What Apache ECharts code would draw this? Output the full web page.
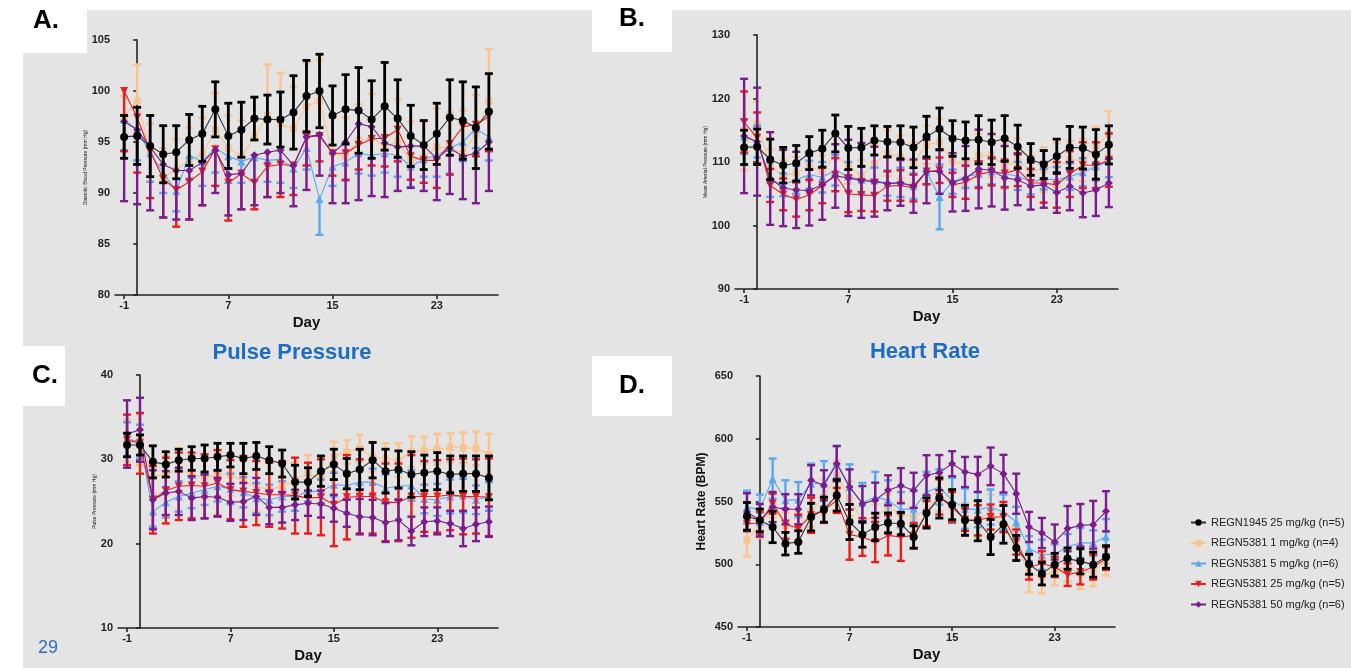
<!DOCTYPE html>
<html><head><meta charset="utf-8">
<script src="https://cdn.jsdelivr.net/npm/echarts@6/dist/echarts.min.js"></script>
<style>html,body{margin:0;padding:0;background:#fff;}#c{width:1351px;height:668px;}</style>
</head><body><div id="c"></div>
<script>
// ---------- data ----------
const days = [-1,0,1,2,3,4,5,6,7,8,9,10,11,12,13,14,15,16,17,18,19,20,21,22,23,24,25,26,27];
const xTicks = [-1,7,15,23];
const groupNames = ['REGN1945 25 mg/kg (n=5)','REGN5381 1 mg/kg (n=4)','REGN5381 5 mg/kg (n=6)','REGN5381 25 mg/kg (n=5)','REGN5381 50 mg/kg (n=6)'];

// A. Diastolic blood pressure
const diaBlack = [95.5,95.6,94.6,93.8,94.0,95.2,95.8,98.2,95.6,96.2,97.3,97.2,97.2,97.9,99.5,100.0,97.6,98.2,98.1,97.2,98.5,97.3,95.6,94.7,95.8,97.4,97.1,96.4,98.0];
const diaBlackErr = [2.1,2.8,3.0,2.8,2.6,2.5,2.7,2.7,3.2,2.7,2.1,2.4,2.7,3.6,3.5,3.6,2.9,3.4,4.2,3.8,4.3,3.8,3.0,2.4,3.0,3.7,3.8,4.0,3.7];
const diaOrange = [97.5,99.0,94.2,91.5,92.3,93.2,93.8,96.2,94.4,93.6,95.5,97.6,96.8,96.3,98.5,99.0,93.9,93.6,95.2,95.4,94.5,95.1,93.1,93.5,94.5,94.4,93.9,95.8,99.0];
const diaOrangeErr = [2.0,3.6,2.6,2.9,3.0,3.2,3.6,3.6,3.2,3.5,3.8,5.0,5.0,4.1,4.2,4.0,3.5,3.8,3.5,4.3,4.0,4.1,3.9,3.5,3.8,3.5,4.2,3.8,5.1];
const diaBlue = [97.2,96.2,93.9,92.0,90.2,93.7,93.1,94.4,93.6,93.1,93.5,93.2,93.3,92.4,94.4,89.4,92.6,93.0,93.9,93.7,93.9,93.7,92.6,93.3,93.7,94.4,95.0,96.3,95.5];
const diaBlueErr = [3.0,3.0,2.8,2.0,2.0,2.4,2.4,2.4,2.6,2.1,2.3,2.1,2.3,1.9,2.1,3.5,1.9,1.8,2.0,2.0,1.9,2.1,2.0,1.7,2.1,2.5,1.9,1.9,2.3];
const diaRed = [100.0,97.4,94.1,91.4,90.3,91.1,92.1,94.3,91.0,91.9,91.0,92.6,92.8,92.7,95.5,95.6,93.9,93.9,94.7,95.3,95.4,96.2,93.6,93.2,93.2,94.8,96.5,96.7,97.5];
const diaRedErr = [5.9,5.4,4.6,3.8,3.6,3.7,3.3,3.6,3.7,3.5,2.6,3.0,3.2,2.9,2.8,2.5,2.2,2.6,2.4,2.6,2.8,3.1,2.3,2.2,2.7,3.0,2.9,3.1,3.4];
const diaPurple = [97.0,96.2,94.5,92.8,92.2,92.2,93.0,94.2,91.8,91.9,93.7,94.0,94.2,92.7,95.5,95.7,93.9,95.0,96.8,96.5,94.9,94.5,94.6,94.6,93.4,94.4,93.6,93.9,95.0];
const diaPurpleErr = [7.8,7.3,6.2,5.2,4.8,4.8,4.2,4.2,4.0,3.5,4.9,4.4,4.2,4.0,5.2,4.0,4.9,6.0,7.5,6.8,5.3,4.3,4.1,4.4,4.1,4.5,4.2,4.9,4.8];

// B. Mean arterial pressure
const mapBlack = [112.3,112.4,110.4,109.5,109.8,111.4,112.1,114.5,112.2,112.3,113.4,113.2,113.1,112.3,114.0,115.2,113.7,113.4,113.5,113.1,113.7,112.4,110.4,109.6,110.9,112.3,112.2,111.2,112.7];
const mapBlackErr = [2.7,2.8,3.2,2.8,2.8,2.6,2.9,2.9,3.4,3.0,2.3,2.4,2.6,3.2,3.2,3.3,2.8,2.9,3.8,3.5,3.6,3.4,2.5,2.2,2.7,3.3,3.3,3.9,3.0];
const mapOrange = [112.0,116.0,109.5,107.8,108.3,109.3,108.5,111.1,109.4,107.8,109.7,111.4,110.8,109.9,112.7,113.2,110.1,109.7,111.0,111.1,109.3,110.3,108.6,108.8,109.5,110.3,110.3,112.3,114.5];
const mapOrangeErr = [3.3,3.5,2.5,2.5,2.5,2.4,2.5,3.5,2.8,2.5,3.0,3.6,3.4,3.2,3.0,3.6,3.5,3.5,3.4,3.5,3.5,3.4,2.5,3.5,3.5,3.0,3.3,3.2,3.5];
const mapBlue = [114.0,113.2,107.2,106.4,107.2,108.0,107.6,108.7,107.7,107.2,107.1,106.7,106.8,106.2,108.5,104.5,106.9,107.7,108.1,108.5,108.1,107.8,106.9,107.3,107.2,107.7,108.4,109.3,110.1];
const mapBlueErr = [2.7,2.5,2.7,1.8,2.2,2.2,2.4,2.4,2.3,2.2,2.0,2.0,2.3,2.0,2.0,5.1,1.9,1.8,2.0,2.0,2.0,2.2,2.0,1.6,2.0,2.1,2.2,2.2,2.5];
const mapRed = [116.3,113.8,106.3,104.9,104.1,104.8,106.3,108.0,105.0,104.8,104.7,106.2,106.3,105.9,108.5,108.7,106.4,106.8,108.0,108.5,108.2,108.8,106.7,106.7,106.4,108.1,109.5,109.5,110.3];
const mapRedErr = [4.8,4.0,2.6,2.5,2.7,2.4,2.8,2.6,2.9,2.5,2.5,2.3,2.4,2.1,2.0,2.0,1.9,2.6,2.1,2.2,2.2,2.6,2.2,3.1,3.6,3.6,3.6,3.6,4.2];
const mapPurple = [114.1,113.2,107.4,105.9,105.6,105.5,106.4,107.8,107.5,107.1,106.9,106.6,106.7,106.2,108.5,108.5,106.8,107.4,108.9,108.7,107.5,107.2,106.2,106.4,105.2,106.2,105.1,105.6,106.7];
const mapPurpleErr = [9.0,8.5,7.3,6.0,6.0,5.5,5.5,5.0,6.0,5.9,5.5,4.2,3.6,4.2,5.0,3.5,4.6,5.1,6.2,5.7,5.0,4.0,3.7,3.6,3.2,3.8,3.8,4.1,3.8];

// C. Pulse pressure
const ppBlack = [31.7,31.7,29.7,29.4,29.9,30.1,30.1,30.3,30.5,30.1,30.4,29.9,29.5,27.3,27.3,28.6,29.4,28.3,28.8,29.9,28.6,28.8,28.2,28.4,28.6,28.2,28.3,28.3,27.8];
const ppBlackErr = [1.4,1.2,1.9,1.5,1.3,1.4,1.6,1.6,1.4,1.8,1.6,1.6,1.6,2.0,1.7,1.8,1.8,1.8,2.4,2.1,2.6,2.2,2.7,2.1,2.2,2.2,2.1,2.1,2.6];
const ppOrange = [32.2,32.3,28.0,28.2,28.8,28.2,27.8,28.2,28.2,27.4,26.8,26.4,26.8,27.6,28.3,27.8,30.3,30.9,31.3,30.3,30.1,29.9,30.9,31.1,31.2,31.4,31.4,31.3,30.6];
const ppOrangeErr = [2.5,3.0,2.0,2.3,2.5,2.3,2.5,2.6,2.5,2.6,3.0,3.2,3.0,2.0,2.2,2.5,1.8,1.4,1.6,1.8,1.8,2.0,1.8,1.6,1.8,1.7,1.8,2.0,2.4];
const ppBlue = [32.4,32.1,23.8,24.9,25.6,26.0,26.4,26.8,26.5,26.1,25.4,25.2,25.6,25.6,26.2,26.2,27.0,26.9,27.3,27.3,26.6,26.8,26.9,25.3,25.2,25.6,25.7,25.2,25.6];
const ppBlueErr = [2.0,2.0,1.8,1.8,1.8,1.8,1.8,1.8,1.8,1.8,1.8,1.8,1.8,1.7,1.2,1.4,1.4,1.6,1.5,1.6,1.6,1.6,1.8,1.7,1.9,2.0,2.0,1.7,1.7];
const ppRed = [32.3,31.9,25.2,26.3,26.8,26.9,26.8,27.2,26.4,26.2,26.0,25.8,25.8,25.7,25.4,25.5,24.6,25.5,25.6,25.6,24.9,24.9,25.6,25.6,25.6,25.8,25.6,25.6,25.5];
const ppRedErr = [3.0,3.6,4.0,3.9,4.0,3.9,3.8,3.9,3.5,4.2,3.8,3.8,4.0,4.5,4.2,4.5,4.9,5.0,4.4,4.4,4.6,4.6,4.9,4.2,4.3,4.2,4.5,4.4,4.6];
const ppPurple = [33.0,33.5,25.2,26.0,26.2,25.4,25.6,25.5,24.9,25.0,25.6,24.3,24.3,24.6,24.8,24.7,24.2,23.6,23.2,23.1,22.5,22.8,21.5,22.6,22.7,22.4,21.8,22.3,22.6];
const ppPurpleErr = [4.0,3.8,3.5,2.6,2.8,2.6,2.6,2.3,2.2,2.2,2.2,2.0,1.8,1.8,1.5,1.6,1.6,1.6,2.1,2.1,2.3,2.4,1.7,1.7,1.6,1.5,2.1,2.0,1.8];

// D. Heart rate
const hrBlack = [538.2,535,529.7,516.4,517.7,537.6,543.5,554.9,533.7,523.6,529.7,532.9,532.3,521.7,540.8,552.8,547.5,535,534.7,521.7,531.8,513,500,492.5,499.7,504.5,502.3,499.7,505.8];
const hrBlackErr = [11,9,12.5,9,9,11,10,12.5,14,10,11,8,9,9,12,16,12,12,16,14,15,10,8,9,9,8.5,10,10,9];
const hrOrange = [519.1,531,547,531,529.7,541.6,553.6,570.8,552.3,535,537.6,545.6,540.3,537.6,543,556.2,545.6,536.3,535.5,541.6,528.4,516.4,492.5,489.8,495.2,498.3,492.5,494.6,503];
const hrOrangeErr = [13,10,10,10,11,12,14,12,14,12,10,10,10,8,12,14,12,12,14,14,12,13,15,13,12,12,12,12,12];
const hrBlue = [545.6,543.5,568.2,550.9,551.5,564.2,564.2,581.5,561.6,548.8,553.6,550.9,543.5,544.3,557.6,561.6,550.9,544.3,543.5,545.6,541.6,533.7,512.4,507.6,508,514,517,517,522];
const hrBlueErr = [13,12,16,16,14,16,18,13,18,16,20,16,14,14,16,14,18,16,14,14,14,12,10,12,8,10,12,10,14];
const hrRed = [532.3,532.9,548.3,532.3,528.4,539,543,550.9,523.6,521.7,517.7,523,521.7,523,540.3,553.6,545.6,535.5,535,537.6,537.6,517.7,497.8,500.4,497.8,491.7,493.9,497.8,504.5];
const hrRedErr = [6,9,8,12,11,14,10,10,20,15,16,16,19,10,10,14,12,9,12,10,12,10,10,10,8,9,10,10,9];
const hrPurple = [541.6,535,545.6,543.8,543.8,566.9,562.9,580.1,561.6,548.3,551,558.9,562.6,558.9,570.9,573,580.1,573.5,571.6,578,572.2,556.2,529.7,524.9,517.7,528.4,531,531.5,542.2];
const hrPurpleErr = [15,13,12,12,12,12,12,14,14,14,14,12,14,14,16,14,10,12,14,15,15,16,12,12,14,18,17,19,16];

// ---------- styling ----------
const colors = ['#000000','#f9c48e','#5aa6f2','#ee1b1b','#7a1c8c'];
const symbols = ['circle','rect','triangle','path://M0,0 L10,0 L5,9 Z','diamond'];
const symSizes = [8,7,8,8,8];
const errWidths = [2.8,2.4,2.4,2.4,2.4];

const panels = [
  {grid:{left:115,top:40,width:383,height:255}, min:80,max:105,interval:5, name:'Diastolic Blood Pressure (mm Hg)', nameSize:5, nameGap:24,
   dirs:['both','up','down','down','down'],
   means:[diaBlack,diaOrange,diaBlue,diaRed,diaPurple], errs:[diaBlackErr,diaOrangeErr,diaBlueErr,diaRedErr,diaPurpleErr]},
  {grid:{left:735,top:35,width:383,height:254}, min:90,max:130,interval:10, name:'Mean Arterial Pressure (mm Hg)', nameSize:5, nameGap:24,
   dirs:['both','both','both','both','both'],
   means:[mapBlack,mapOrange,mapBlue,mapRed,mapPurple], errs:[mapBlackErr,mapOrangeErr,mapBlueErr,mapRedErr,mapPurpleErr]},
  {grid:{left:118,top:375,width:380,height:253}, min:10,max:40,interval:10, name:'Pulse Pressure (mm Hg)', nameSize:5, nameGap:18,
   dirs:['both','both','both','both','both'],
   means:[ppBlack,ppOrange,ppBlue,ppRed,ppPurple], errs:[ppBlackErr,ppOrangeErr,ppBlueErr,ppRedErr,ppPurpleErr]},
  {grid:{left:738,top:376,width:377,height:251}, min:450,max:650,interval:50, name:'Heart Rate (BPM)', nameSize:12, nameGap:30, nameBold:true,
   dirs:['both','both','both','both','both'],
   means:[hrBlack,hrOrange,hrBlue,hrRed,hrPurple], errs:[hrBlackErr,hrOrangeErr,hrBlueErr,hrRedErr,hrPurpleErr]}
];

const FONT = 'Liberation Sans, Arial, sans-serif';
const axisLineStyle = {color:'#222', width:1.6};

function errRenderer(color, lw, dir, yMin, yMax){
  return function(params, api){
    const x = api.value(0), m = api.value(1), e = api.value(2);
    let hiV = dir === 'down' ? m : m + e;
    let loV = dir === 'up' ? m : m - e;
    const hiClip = hiV > yMax, loClip = loV < yMin;
    hiV = Math.min(hiV, yMax); loV = Math.max(loV, yMin);
    const t = api.coord([x, hiV]), b = api.coord([x, loV]);
    const hw = 4;
    const st = {stroke:color, lineWidth:lw};
    const ch = [{type:'line', shape:{x1:t[0],y1:t[1],x2:b[0],y2:b[1]}, style:st}];
    if (dir !== 'down' && !hiClip) ch.push({type:'line', shape:{x1:t[0]-hw,y1:t[1],x2:t[0]+hw,y2:t[1]}, style:st});
    if (dir !== 'up' && !loClip) ch.push({type:'line', shape:{x1:b[0]-hw,y1:b[1],x2:b[0]+hw,y2:b[1]}, style:st});
    return {type:'group', children:ch};
  };
}

const grids = [], xAxes = [], yAxes = [], series = [];
const drawOrder = [1,2,3,4,0];
panels.forEach((p, pi) => {
  grids.push(Object.assign({containLabel:false}, p.grid));
  xAxes.push({type:'value', gridIndex:pi, min:-1.7, max:27.7,
    name:'Day', nameLocation:'middle', nameGap:20,
    nameTextStyle:{fontFamily:FONT, fontWeight:'bold', fontSize:15, color:'#111'},
    axisLine:{show:true, lineStyle:axisLineStyle},
    axisTick:{show:true, customValues:xTicks, length:4, lineStyle:axisLineStyle},
    axisLabel:{customValues:xTicks, fontFamily:FONT, fontWeight:'bold', fontSize:11, color:'#222', margin:5},
    splitLine:{show:false}});
  yAxes.push({type:'value', gridIndex:pi, min:p.min, max:p.max, interval:p.interval,
    name:p.name, nameLocation:'middle', nameGap:p.nameGap,
    nameTextStyle:{fontFamily:FONT, fontWeight:p.nameBold?'bold':'normal', fontSize:p.nameSize, color:'#111'},
    axisLine:{show:true, lineStyle:axisLineStyle},
    axisTick:{show:true, length:4, lineStyle:axisLineStyle},
    axisLabel:{fontFamily:FONT, fontWeight:'bold', fontSize:11, color:'#222', margin:5},
    splitLine:{show:false}});
  drawOrder.forEach((g, k) => {
    const data = days.map((d, i) => [d, p.means[g][i], p.errs[g][i]]);
    series.push({type:'custom', name:'err'+pi+'_'+g, xAxisIndex:pi, yAxisIndex:pi, z:2+k*2,
      renderItem:errRenderer(colors[g], errWidths[g], p.dirs[g], p.min, p.max), encode:{x:0, y:1}, data:data, silent:true});
    series.push({type:'line', name:groupNames[g], xAxisIndex:pi, yAxisIndex:pi, z:3+k*2,
      data:days.map((d, i) => [d, p.means[g][i]]),
      symbol:symbols[g], symbolSize:symSizes[g], showSymbol:true,
      itemStyle:{color:colors[g]},
      lineStyle:{color:g===0?'#333':colors[g], width:1.1},
      animation:false});
  });
});

const greyBg = '#e4e4e4';
const graphic = [
  {type:'rect', shape:{x:23,y:10,width:1328,height:658}, style:{fill:greyBg}, z:-10, silent:true},
  {type:'rect', shape:{x:0,y:0,width:87,height:53}, style:{fill:'#fff'}, z:-9},
  {type:'rect', shape:{x:592,y:10,width:80,height:42}, style:{fill:'#fff'}, z:-9},
  {type:'rect', shape:{x:0,y:346,width:65,height:60}, style:{fill:'#fff'}, z:-9},
  {type:'rect', shape:{x:592,y:356,width:80,height:60}, style:{fill:'#fff'}, z:-9},
  {type:'text', x:46, y:21, style:{text:'A.', fontFamily:FONT, fontWeight:'bold', fontSize:26, fill:'#000', textAlign:'center', textVerticalAlign:'middle'}},
  {type:'text', x:632, y:19, style:{text:'B.', fontFamily:FONT, fontWeight:'bold', fontSize:26, fill:'#000', textAlign:'center', textVerticalAlign:'middle'}},
  {type:'text', x:45, y:376, style:{text:'C.', fontFamily:FONT, fontWeight:'bold', fontSize:26, fill:'#000', textAlign:'center', textVerticalAlign:'middle'}},
  {type:'text', x:632, y:386, style:{text:'D.', fontFamily:FONT, fontWeight:'bold', fontSize:26, fill:'#000', textAlign:'center', textVerticalAlign:'middle'}},
  {type:'text', x:292, y:353, style:{text:'Pulse Pressure', fontFamily:FONT, fontWeight:'bold', fontSize:22, fill:'#1f6cc0', textAlign:'center', textVerticalAlign:'middle'}},
  {type:'text', x:925, y:352, style:{text:'Heart Rate', fontFamily:FONT, fontWeight:'bold', fontSize:22, fill:'#1f6cc0', textAlign:'center', textVerticalAlign:'middle'}},
  {type:'text', x:48, y:648, style:{text:'29', fontFamily:FONT, fontSize:18, fill:'#2d6fbd', textAlign:'center', textVerticalAlign:'middle'}}
];

const chart = echarts.init(document.getElementById('c'), null, {renderer:'canvas'});
chart.setOption({
  animation:false,
  backgroundColor:'#ffffff',
  grid:grids, xAxis:xAxes, yAxis:yAxes, series:series,
  graphic:graphic,
  legend:{show:true, data:groupNames, orient:'vertical', left:1185, top:512, itemGap:9.5, itemWidth:15, itemHeight:8,
    textStyle:{fontFamily:FONT, fontSize:11, color:'#222'}, selectedMode:false}
});
</script></body></html>
